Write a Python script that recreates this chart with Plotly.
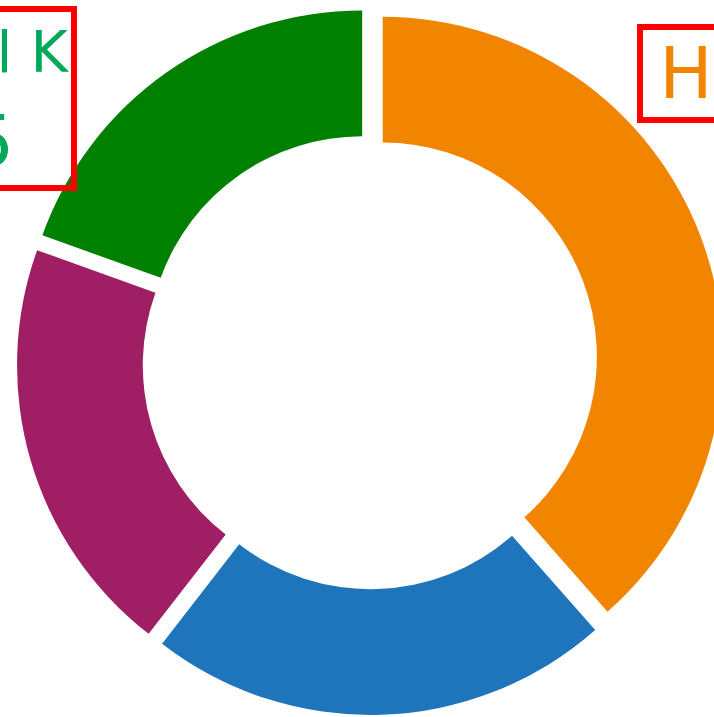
import plotly.graph_objects as go

categories = ["H", "B", "P", "K"]
values = [38.5, 22.0, 20.0, 19.5]
colors = ["#F28500", "#1F75BB", "#A01E63", "#008000"]

label_h = "\u2009Hindi 38.5"
label_k = "<span style='font-size:57px'>Small K</span><br>19.5"

fig = go.Figure(go.Pie(
    labels=categories,
    values=values,
    sort=False,
    direction="clockwise",
    rotation=0,
    hole=0.63,
    pull=0.04,
    marker=dict(colors=colors, line=dict(width=0)),
    textinfo="none",
    hoverinfo="none",
    showlegend=False,
))

W, H = 740, 717
T, B = 8, 2

def px(x):
    return x / W

def py(y):
    return 1 - (y - T) / (H - T - B)

FONT = "DejaVu Sans"

fig.add_annotation(
    text=label_k, xref="paper", yref="paper",
    x=px(77), y=py(6), xanchor="right", yanchor="top",
    showarrow=False, align="left", valign="bottom", height=169,
    font=dict(family=FONT, size=72, color="#00A859"),
    bordercolor="#FF0000", borderwidth=6, borderpad=2,
)
fig.add_annotation(
    text=label_h, xref="paper", yref="paper",
    x=px(637), y=py(24), xanchor="left", yanchor="top",
    showarrow=False, align="left",
    font=dict(family=FONT, size=71, color="#F28500"),
    bordercolor="#FF0000", borderwidth=6, borderpad=2,
)

fig.update_layout(
    width=W, height=H,
    margin=dict(l=0, r=0, t=T, b=B),
    font=dict(family=FONT),
    paper_bgcolor="white",
    plot_bgcolor="white",
)

fig.write_html("out.html")
